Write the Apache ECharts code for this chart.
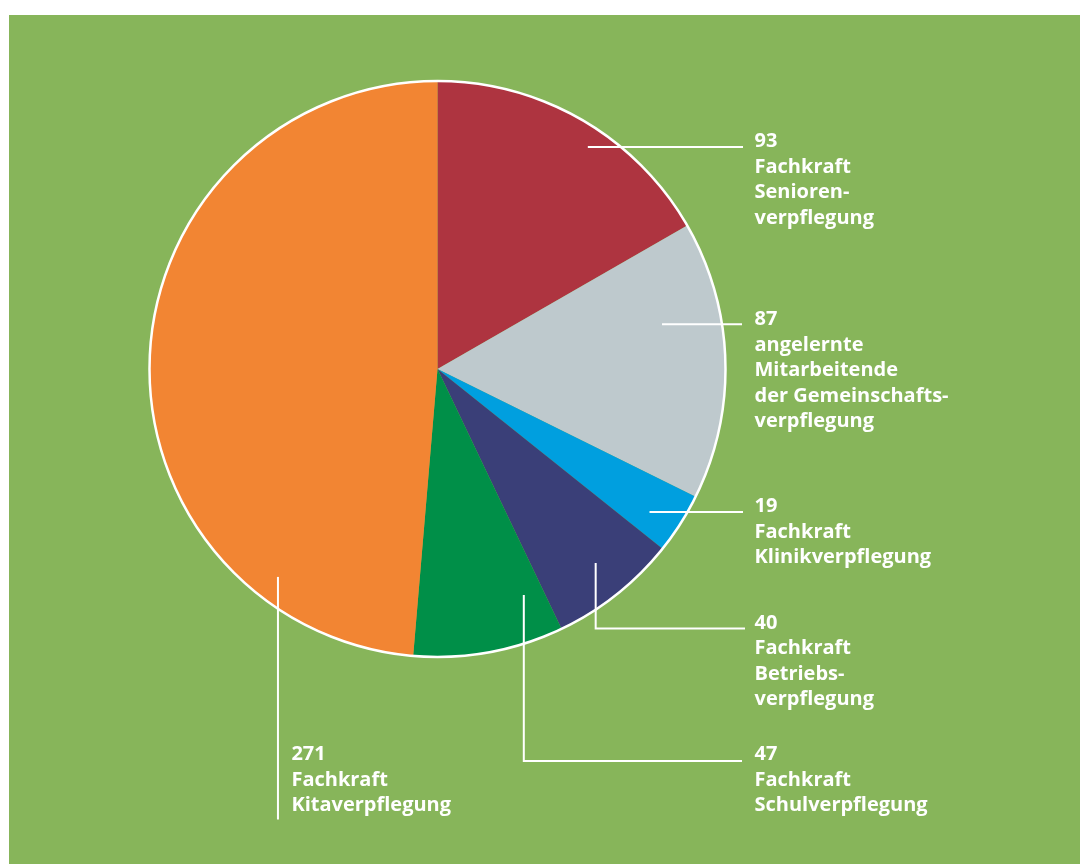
<!DOCTYPE html>
<html>
<head>
<meta charset="utf-8">
<script src="https://cdn.jsdelivr.net/npm/echarts@6/dist/echarts.min.js"></script>
<style>
html,body{margin:0;padding:0;background:#fff;}
#chart{width:1080px;height:864px;}
</style>
</head>
<body>
<div id="chart"></div>
<script>
// ---- data ----
var categories = [
  'Fachkraft\nSenioren-\nverpflegung',
  'angelernte\nMitarbeitende\nder Gemeinschafts-\nverpflegung',
  'Fachkraft\nKlinikverpflegung',
  'Fachkraft\nBetriebs-\nverpflegung',
  'Fachkraft\nSchulverpflegung',
  'Fachkraft\nKitaverpflegung'
];
var values = [93, 87, 19, 40, 47, 271];
var colors = ['#AE3440', '#BEC9CD', '#009FDF', '#3A3F78', '#008F48', '#F28533'];

// ---- layout (label anchors / leader line geometry) ----
var CX = 437.5, CY = 369, R = 288;
// start of leader: angle (deg, clockwise from 12 o'clock), fraction of radius
// type: 'h' horizontal to labels, 'vh' vertical then horizontal, 'v' vertical only
var leaders = [
  {ang: 34.1, f: 0.931, type: 'h', labelX: 754.5, labelY: 128.8, endX: 743},
  {ang: 78.7, f: 0.795, type: 'h', labelX: 754.5, labelY: 307, endX: 742},
  {ang: 124.0, f: 0.888, type: 'h', labelX: 754.5, labelY: 493.8, endX: 743},
  {ang: 140.8, f: 0.869, type: 'vh', labelX: 754.5, labelY: 610.5, turnY: 628.5, endX: 745},
  {ang: 159.1, f: 0.84, type: 'vh', labelX: 754.5, labelY: 741.8, turnY: 761, endX: 742},
  {ang: 217.5, f: 0.91, type: 'v', labelX: 291.4, labelY: 742, endY: 819.5}
];

function startPoint(l) {
  var a = l.ang * Math.PI / 180;
  return [CX + Math.sin(a) * R * l.f, CY - Math.cos(a) * R * l.f];
}

var chart = echarts.init(document.getElementById('chart'), null, {renderer: 'canvas'});

var pieData = values.map(function (v, i) {
  return {value: v, name: categories[i], itemStyle: {color: colors[i]}};
});
var labelData = values.map(function (v, i) {
  return {value: v, name: categories[i]};
});

chart.setOption({
  backgroundColor: '#ffffff',
  animation: false,
  graphic: [{
    type: 'rect', z: 0,
    shape: {x: 9, y: 15, width: 1071, height: 849},
    style: {fill: '#87B55A'}
  }],
  series: [{
    // slices
    type: 'pie',
    center: [CX, CY],
    radius: [0, R],
    startAngle: 90,
    clockwise: true,
    data: pieData,
    itemStyle: {borderWidth: 0},
    label: {show: false},
    labelLine: {show: false},
    emphasis: {disabled: true},
    silent: true,
    z: 2
  }, {
    // white outline of the pie
    type: 'pie',
    center: [CX, CY],
    radius: [0, R],
    silent: true,
    data: [{value: 1, name: ''}],
    itemStyle: {color: 'rgba(0,0,0,0)', borderColor: '#ffffff', borderWidth: 2.5},
    label: {show: false},
    labelLine: {show: false},
    emphasis: {disabled: true},
    z: 3
  }, {
    // labels and leader lines drawn on top
    type: 'pie',
    center: [CX, CY],
    radius: [0, R],
    startAngle: 90,
    clockwise: true,
    avoidLabelOverlap: false,
    data: labelData,
    itemStyle: {color: 'rgba(0,0,0,0)', borderWidth: 0},
    label: {
      show: true,
      position: 'outside',
      formatter: '{c}\n{b}',
      color: '#ffffff',
      fontFamily: 'Open Sans',
      fontWeight: 'bold',
      fontSize: 20,
      lineHeight: 25.5,
      align: 'left'
    },
    labelLine: {
      show: true,
      lineStyle: {color: '#ffffff', width: 2}
    },
    labelLayout: function (params) {
      var l = leaders[params.dataIndex];
      var s = startPoint(l);
      var pts;
      if (l.type === 'h') {
        pts = [s, [(s[0] + l.endX) / 2, s[1]], [l.endX, s[1]]];
      } else if (l.type === 'vh') {
        pts = [s, [s[0], l.turnY], [l.endX, l.turnY]];
      } else {
        pts = [s, [s[0], (s[1] + l.endY) / 2], [s[0], l.endY]];
      }
      return {
        x: l.labelX, y: l.labelY,
        align: 'left', verticalAlign: 'top',
        labelLinePoints: pts
      };
    },
    emphasis: {disabled: true},
    silent: true,
    z: 4
  }]
});
</script>
</body>
</html>
